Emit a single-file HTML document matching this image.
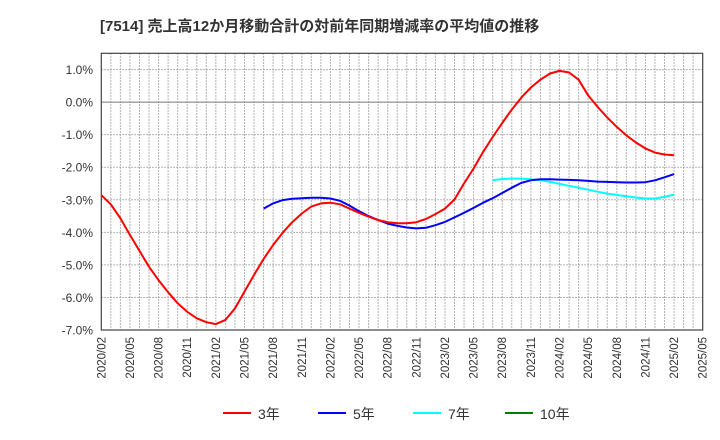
<!DOCTYPE html>
<html><head><meta charset="utf-8"><style>
body{margin:0;background:#fff;font-family:"Liberation Sans","Noto Sans CJK JP",sans-serif;}
</style></head><body>
<svg id="chart" width="720" height="440" xmlns="http://www.w3.org/2000/svg" style="display:block">
<text x="100" y="31" font-size="15" font-weight="bold" fill="#333" font-family="Liberation Sans, Noto Sans CJK JP, sans-serif">[7514]  売上高12か月移動合計の対前年同期増減率の平均値の推移</text>
<g id="grid"></g><g id="axes"></g><g id="series"></g><g id="legend"></g>
</svg>
<script>
const months = 64; // 2020/02 .. 2025/05
const startYear = 2020, startMonth = 2;
const yTicks = [1,0,-1,-2,-3,-4,-5,-6,-7];
const s3 = [-2.86,-3.14,-3.57,-4.08,-4.57,-5.06,-5.47,-5.84,-6.18,-6.44,-6.64,-6.76,-6.82,-6.69,-6.34,-5.82,-5.31,-4.82,-4.39,-4.01,-3.69,-3.42,-3.21,-3.11,-3.09,-3.14,-3.27,-3.40,-3.52,-3.62,-3.69,-3.72,-3.72,-3.69,-3.59,-3.44,-3.27,-2.99,-2.50,-2.04,-1.53,-1.07,-0.64,-0.23,0.14,0.45,0.69,0.88,0.96,0.91,0.69,0.21,-0.15,-0.47,-0.76,-1.02,-1.24,-1.42,-1.55,-1.61,-1.63];
const s5start = 17;
const s5 = [-3.27,-3.11,-3.01,-2.97,-2.95,-2.94,-2.94,-2.96,-3.03,-3.18,-3.35,-3.50,-3.62,-3.73,-3.80,-3.85,-3.88,-3.86,-3.78,-3.68,-3.54,-3.40,-3.25,-3.09,-2.95,-2.79,-2.63,-2.48,-2.40,-2.37,-2.37,-2.38,-2.39,-2.40,-2.42,-2.44,-2.45,-2.46,-2.47,-2.47,-2.46,-2.40,-2.31,-2.21];
const s7start = 41;
const s7 = [-2.40,-2.36,-2.35,-2.35,-2.37,-2.40,-2.45,-2.51,-2.57,-2.63,-2.69,-2.75,-2.81,-2.85,-2.89,-2.93,-2.96,-2.96,-2.91,-2.84];
const legendLabels = ["3年","5年","7年","10年"];
const legendColors = ["#ff0000","#0000ff","#00ffff","#008000"];

const L=101.3,R=702.7,T=53.3,B=330,yMin=-7,yMax=1.5;
const x = m => L + m*(R-L)/(months-1);
const y = v => B - (v-yMin)*(B-T)/(yMax-yMin);
const NS="http://www.w3.org/2000/svg";
function mk(tag,attrs,parent){const e=document.createElementNS(NS,tag);for(const k in attrs)e.setAttribute(k,attrs[k]);parent.appendChild(e);return e;}
const grid=document.getElementById('grid'),axes=document.getElementById('axes'),ser=document.getElementById('series'),leg=document.getElementById('legend');
for(let m=1;m<months-1;m++){const l=mk('line',{x1:x(m),x2:x(m),y1:T,y2:B,stroke:'#999','stroke-dasharray':'1.5,1.5','stroke-width':1},grid);

}
yTicks.forEach(v=>{
 if(v!==0&&v!==yMin){const l=mk('line',{x1:L,x2:R,y1:y(v),y2:y(v),stroke:'#999','stroke-dasharray':'1.5,1.5'},grid);
 
 }
 const t=mk('text',{x:93,y:y(v)+4.5,'text-anchor':'end','font-size':12,fill:'#333'},axes);
 t.textContent=v.toFixed(1)+'%';
 
 
});
const z=mk('line',{x1:L,x2:R,y1:y(0),y2:y(0),stroke:'#777','stroke-width':1},grid);


const fr=mk('rect',{x:L,y:T,width:R-L,height:B-T,fill:'none',stroke:'#444','stroke-width':1.2},axes);


for(let m=0;m<months;m+=3){
 const yr=startYear+Math.floor((startMonth-1+m)/12), mo=(startMonth-1+m)%12+1;
 const t=mk('text',{transform:`translate(${x(m)+4},337) rotate(-90)`,'text-anchor':'end','font-size':11.5,fill:'#333'},axes);
 t.textContent=yr+'/'+String(mo).padStart(2,'0');
 
 
}
function line(data,start,color,name){
 const pts=data.map((v,i)=>x(start+i).toFixed(1)+','+y(v).toFixed(1)).join(' ');
 const p=mk('polyline',{points:pts,fill:'none',stroke:color,'stroke-width':2,'stroke-linejoin':'round'},ser);
 
 
}
line(s7,s7start,'#00ffff','series-7yr');
line(s5,s5start,'#0000ff','series-5yr');
line(s3,0,'#ff0000','series-3yr');
const lx=[223,318,413,505];
legendLabels.forEach((lab,i)=>{
 const g=mk('g',{},leg);
 
 
 mk('line',{x1:lx[i],x2:lx[i]+28,y1:413,y2:413,stroke:legendColors[i],'stroke-width':2},g);
 const t=mk('text',{x:lx[i]+35,y:419,'font-size':14,fill:'#333'},g);
 t.textContent=lab;
});
</script>
</body></html>
